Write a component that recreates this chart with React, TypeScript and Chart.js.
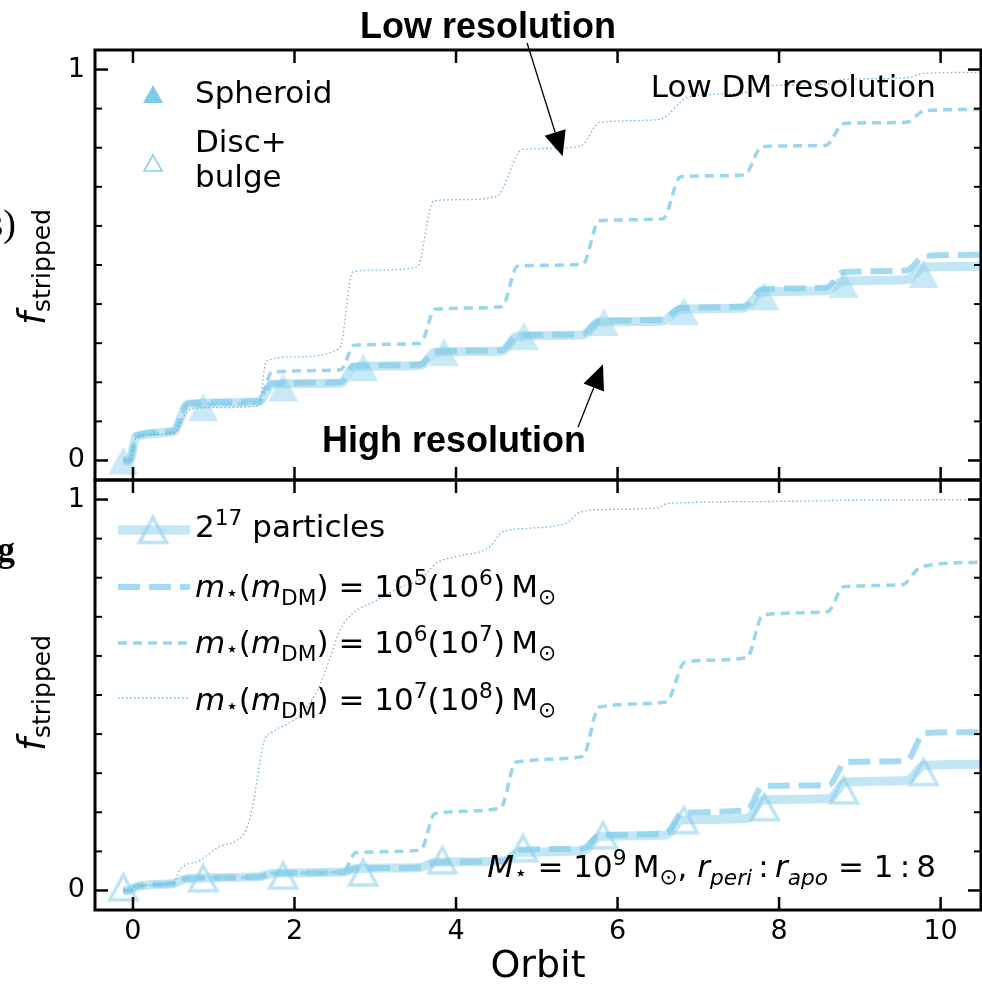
import React, { useEffect, useRef } from 'react';
import { Chart, registerables } from 'chart.js';

Chart.register(...registerables);

const W = 982;
const H = 986;

// ---------- axes ----------
const X_MIN = -0.47;
const X_MAX = 10.5;
const X_TICKS = [0, 2, 4, 6, 8, 10];
const X_TICK_LABELS = ['0', '2', '4', '6', '8', '10'];
const Y_MIN = -0.05;
const Y_MAX = 1.05;
const Y_TICKS = [0, 1];
const Y_TICK_LABELS = ['0', '1'];
const Y_MINOR_TICKS = [0.1, 0.2, 0.3, 0.4, 0.5, 0.6, 0.7, 0.8, 0.9];

// ---------- top panel (low DM resolution) ----------
const TOP_P17_X = [-0.12, -0.04, 0.04, 0.5, 0.68, 1.56, 1.72, 2.57, 2.74, 3.56, 3.74, 4.57, 4.76, 5.57, 5.77, 6.56, 6.78, 7.57, 7.79, 8.58, 8.8, 9.58, 9.8, 10.55];
const TOP_P17_Y = [0, 0, 0.062, 0.074, 0.144, 0.15, 0.195, 0.198, 0.24, 0.243, 0.277, 0.28, 0.318, 0.321, 0.354, 0.357, 0.387, 0.39, 0.431, 0.434, 0.459, 0.462, 0.495, 0.497];
const TOP_D5_X = [-0.12, -0.04, 0.04, 0.5, 0.68, 1.56, 1.72, 2.57, 2.74, 3.56, 3.74, 4.57, 4.76, 5.57, 5.77, 6.56, 6.78, 7.57, 7.79, 8.58, 8.8, 9.58, 9.8, 10.55];
const TOP_D5_Y = [0, 0, 0.064, 0.076, 0.146, 0.152, 0.197, 0.2, 0.242, 0.245, 0.279, 0.282, 0.32, 0.323, 0.356, 0.36, 0.39, 0.394, 0.438, 0.442, 0.482, 0.486, 0.523, 0.526];
const TOP_D6_X = [-0.12, -0.04, 0.04, 0.5, 0.68, 1.56, 1.72, 2.57, 2.74, 3.56, 3.74, 4.57, 4.76, 5.57, 5.77, 6.56, 6.78, 7.57, 7.79, 8.58, 8.8, 9.58, 9.8, 10.55];
const TOP_D6_Y = [0, 0, 0.06, 0.072, 0.142, 0.148, 0.226, 0.232, 0.295, 0.3, 0.387, 0.393, 0.497, 0.502, 0.613, 0.618, 0.726, 0.73, 0.803, 0.806, 0.862, 0.865, 0.895, 0.898];
const TOP_D7_X = [-0.12, -0.04, 0.04, 0.5, 0.7, 1.0, 1.56, 1.65, 2.0, 2.56, 2.72, 3.0, 3.52, 3.72, 4.0, 4.5, 4.82, 5.1, 5.55, 5.78, 6.52, 6.88, 7.55, 7.8, 8.55, 8.8, 9.55, 9.8, 10.55];
const TOP_D7_Y = [0, 0, 0.058, 0.07, 0.13, 0.135, 0.14, 0.254, 0.265, 0.287, 0.482, 0.487, 0.495, 0.663, 0.667, 0.675, 0.795, 0.798, 0.805, 0.865, 0.872, 0.93, 0.94, 0.958, 0.962, 0.975, 0.978, 0.99, 0.993];
const TOP_MARK_X = [-0.12, 0.87, 1.86, 2.85, 3.85, 4.84, 5.83, 6.82, 7.82, 8.8, 9.79];
const TOP_MARK_Y = [0.0, 0.136, 0.187, 0.238, 0.277, 0.318, 0.354, 0.382, 0.42, 0.451, 0.477];

// ---------- bottom panel ----------
const BOT_P17_X = [-0.12, -0.04, 0.04, 0.5, 0.66, 1.57, 1.72, 2.6, 2.76, 3.56, 3.74, 4.6, 4.77, 5.58, 5.78, 6.6, 6.8, 7.6, 7.8, 8.62, 8.82, 9.58, 9.8, 10.55];
const BOT_P17_Y = [0, 0, 0.01, 0.018, 0.03, 0.035, 0.044, 0.047, 0.056, 0.059, 0.072, 0.076, 0.097, 0.102, 0.138, 0.142, 0.18, 0.184, 0.231, 0.235, 0.277, 0.281, 0.32, 0.323];
const BOT_D5_X = [-0.12, -0.04, 0.04, 0.5, 0.66, 1.57, 1.72, 2.6, 2.76, 3.56, 3.74, 4.6, 4.77, 5.58, 5.78, 6.6, 6.8, 7.6, 7.8, 8.62, 8.82, 9.58, 9.8, 10.55];
const BOT_D5_Y = [0, 0, 0.01, 0.018, 0.03, 0.035, 0.044, 0.047, 0.056, 0.059, 0.072, 0.076, 0.104, 0.108, 0.141, 0.146, 0.198, 0.205, 0.267, 0.27, 0.328, 0.332, 0.403, 0.405];
const BOT_D6_X = [-0.12, -0.04, 0.04, 0.5, 0.66, 1.57, 1.72, 2.6, 2.76, 3.56, 3.74, 4.55, 4.74, 5.57, 5.77, 6.6, 6.84, 7.6, 7.8, 8.6, 8.8, 9.52, 9.76, 10.55];
const BOT_D6_Y = [0, 0, 0.01, 0.018, 0.03, 0.035, 0.044, 0.047, 0.097, 0.103, 0.197, 0.21, 0.328, 0.343, 0.469, 0.482, 0.585, 0.595, 0.705, 0.713, 0.777, 0.782, 0.828, 0.84];
const BOT_D7_X = [-0.12, -0.04, 0.04, 0.5, 0.58, 0.83, 1.05, 1.3, 1.4, 1.48, 1.55, 1.62, 1.72, 1.9, 2.1, 2.3, 2.45, 2.55, 2.7, 3.0, 3.3, 3.58, 3.76, 4.0, 4.42, 4.56, 4.7, 5.37, 5.53, 5.78, 6.5, 6.62, 7.9, 8.8, 10.55];
const BOT_D7_Y = [0, 0, 0.012, 0.02, 0.053, 0.077, 0.11, 0.13, 0.155, 0.213, 0.3, 0.38, 0.405, 0.425, 0.455, 0.52, 0.6, 0.66, 0.705, 0.74, 0.775, 0.8, 0.838, 0.854, 0.88, 0.915, 0.923, 0.94, 0.967, 0.974, 0.979, 0.99, 0.995, 0.998, 1.0];
const BOT_MARK_X = [-0.12, 0.87, 1.86, 2.85, 3.83, 4.83, 5.82, 6.82, 7.82, 8.8, 9.79];
const BOT_MARK_Y = [0.008, 0.031, 0.038, 0.046, 0.077, 0.108, 0.141, 0.18, 0.213, 0.256, 0.303];

// ---------- annotation arrows (data coordinates of top panel) ----------
const LOW_ARROW = { from: [4.88, 1.068], to: [5.32, 0.778] };
const HIGH_ARROW = { from: [5.51, 0.085], to: [5.82, 0.246] };

// ---------- styles ----------
const STYLE = {
  p17: { color: 'rgba(135,206,235,0.5)', width: 9, dash: [] as number[] },
  d5: { color: 'rgba(135,206,235,0.75)', width: 6, dash: [22, 9] },
  d6: { color: 'rgba(135,206,235,0.85)', width: 3.5, dash: [9, 6] },
  d7: { color: 'rgba(95,170,210,0.9)', width: 1.3, dash: [1.5, 2.5] },
};
const FONT = 'DejaVu Sans';

const pts = (xs: number[], ys: number[]) => xs.map((x, i) => ({ x, y: ys[i] }));

function triangleImage(w: number, h: number, fill: string | null, stroke: string | null, lw: number) {
  const pad = Math.ceil(lw) + 1;
  const c = document.createElement('canvas');
  c.width = w + 2 * pad;
  c.height = h + 2 * pad;
  const ctx = c.getContext('2d')!;
  ctx.beginPath();
  ctx.moveTo(pad + w / 2, pad);
  ctx.lineTo(pad + w, pad + h);
  ctx.lineTo(pad, pad + h);
  ctx.closePath();
  if (fill) { ctx.fillStyle = fill; ctx.fill(); }
  if (stroke) { ctx.strokeStyle = stroke; ctx.lineWidth = lw; ctx.lineJoin = 'miter'; ctx.stroke(); }
  return c;
}

function seg(ctx: CanvasRenderingContext2D, x1: number, y1: number, x2: number, y2: number) {
  ctx.beginPath();
  ctx.moveTo(x1, y1);
  ctx.lineTo(x2, y2);
  ctx.stroke();
}

const framePlugin = {
  id: 'frame',
  afterDraw(chart: any) {
    const { ctx, chartArea: a } = chart;
    const xs = chart.scales.x;
    const ys = chart.scales.y;
    ctx.save();
    ctx.strokeStyle = '#000';
    ctx.lineCap = 'butt';
    ctx.setLineDash([]);
    ctx.lineWidth = 2.5;
    X_TICKS.forEach((v) => {
      const p = xs.getPixelForValue(v);
      seg(ctx, p, a.bottom, p, a.bottom - 13);
      seg(ctx, p, a.top, p, a.top + 13);
    });
    Y_TICKS.forEach((v) => {
      const p = ys.getPixelForValue(v);
      seg(ctx, a.left, p, a.left + 13, p);
      seg(ctx, a.right, p, a.right - 13, p);
    });
    ctx.lineWidth = 2;
    Y_MINOR_TICKS.forEach((v) => {
      const p = ys.getPixelForValue(v);
      seg(ctx, a.left, p, a.left + 7, p);
      seg(ctx, a.right, p, a.right - 7, p);
    });
    ctx.lineWidth = 3;
    ctx.strokeRect(a.left, a.top, a.right - a.left, a.bottom - a.top);
    ctx.restore();
  },
};

function drawArrow(ctx: CanvasRenderingContext2D, xs: any, ys: any, arrow: { from: number[]; to: number[] }) {
  const x1 = xs.getPixelForValue(arrow.from[0]);
  const y1 = ys.getPixelForValue(arrow.from[1]);
  const x2 = xs.getPixelForValue(arrow.to[0]);
  const y2 = ys.getPixelForValue(arrow.to[1]);
  const ang = Math.atan2(y2 - y1, x2 - x1);
  const len = 25;
  const hw = 11;
  const bx = x2 - len * Math.cos(ang);
  const by = y2 - len * Math.sin(ang);
  ctx.save();
  ctx.strokeStyle = '#000';
  ctx.fillStyle = '#000';
  ctx.lineWidth = 1.3;
  seg(ctx, x1, y1, bx, by);
  ctx.beginPath();
  ctx.moveTo(x2, y2);
  ctx.lineTo(bx + hw * Math.sin(ang), by - hw * Math.cos(ang));
  ctx.lineTo(bx - hw * Math.sin(ang), by + hw * Math.cos(ang));
  ctx.closePath();
  ctx.fill();
  ctx.restore();
}

function lineSample(ctx: CanvasRenderingContext2D, st: { color: string; width: number; dash: number[] }, x1: number, x2: number, y: number) {
  ctx.save();
  ctx.strokeStyle = st.color;
  ctx.lineWidth = st.width;
  ctx.setLineDash(st.dash);
  ctx.lineCap = 'butt';
  seg(ctx, x1, y, x2, y);
  ctx.restore();
}

function makeDatasets(
  d7: [number[], number[]], d6: [number[], number[]], d5: [number[], number[]], p17: [number[], number[]],
  mark: [number[], number[]], markerImg: HTMLCanvasElement,
) {
  const line = (xy: [number[], number[]], st: any) => ({
    type: 'line',
    data: pts(xy[0], xy[1]),
    borderColor: st.color,
    borderWidth: st.width,
    borderDash: st.dash,
    borderCapStyle: 'butt',
    pointRadius: 0,
    fill: false,
    cubicInterpolationMode: 'monotone',
  });
  return [
    line(d7, STYLE.d7),
    line(d6, STYLE.d6),
    line(d5, STYLE.d5),
    {
      type: 'line',
      data: pts(mark[0], mark[1]),
      showLine: false,
      pointStyle: markerImg,
      pointRadius: 10,
      clip: false,
    },
    line(p17, STYLE.p17),
  ];
}

function baseOptions(showX: boolean, padTop: number, padBottom: number, xHeight: number) {
  const tickFont = { family: FONT, size: 27 };
  return {
    animation: false,
    responsive: false,
    events: [],
    layout: { autoPadding: false, padding: { top: padTop, bottom: padBottom, left: 0, right: 1 } },
    plugins: { legend: { display: false }, tooltip: { enabled: false } },
    scales: {
      x: {
        type: 'linear',
        min: X_MIN,
        max: X_MAX,
        afterBuildTicks: (s: any) => { s.ticks = X_TICKS.map((v) => ({ value: v })); },
        ticks: {
          display: showX,
          font: tickFont,
          color: '#000',
          padding: 6,
          maxRotation: 0,
          autoSkip: false,
          callback: (v: number) => X_TICK_LABELS[X_TICKS.indexOf(v)] ?? '',
        },
        grid: { display: false, drawTicks: false },
        border: { display: false },
        title: showX
          ? { display: true, text: 'Orbit', color: '#000', font: { family: FONT, size: 38, lineHeight: 1 }, padding: { top: 0, bottom: 0 } }
          : { display: false },
        afterFit: (s: any) => { s.height = xHeight; },
      },
      y: {
        type: 'linear',
        min: Y_MIN,
        max: Y_MAX,
        afterBuildTicks: (s: any) => { s.ticks = Y_TICKS.map((v) => ({ value: v })); },
        ticks: {
          font: tickFont,
          color: '#000',
          padding: 10,
          callback: (v: number) => Y_TICK_LABELS[Y_TICKS.indexOf(v)] ?? '',
        },
        grid: { display: false, drawTicks: false },
        border: { display: false },
        afterFit: (s: any) => { s.width = 95; },
      },
    },
  };
}

const Sup = ({ s, children }: { s: number; children: any }) => (
  <span style={{ fontSize: s * 0.7, position: 'relative', top: -s * 0.38, lineHeight: 0 }}>{children}</span>
);
const Sub = ({ s, d = 0.2, children }: { s: number; d?: number; children: any }) => (
  <span style={{ fontSize: s * 0.7, position: 'relative', top: s * d, lineHeight: 0 }}>{children}</span>
);

function Txt({ x, base, size, align = 'left', family = FONT, weight = 'normal', children }: any) {
  const top = base - 0.846 * size;
  const pos: any = align === 'left' ? { left: x } : align === 'right' ? { right: W - x } : { left: x, transform: 'translateX(-50%)' };
  return (
    <div style={{ position: 'absolute', top, ...pos, fontSize: size, lineHeight: `${size}px`, fontFamily: family, fontWeight: weight, whiteSpace: 'nowrap', color: '#000' }}>
      {children}
    </div>
  );
}

function YTitle({ cx, cy }: { cx: number; cy: number }) {
  const s = 37;
  return (
    <div style={{ position: 'absolute', left: cx, top: cy, transform: 'translate(-50%, -50%) rotate(-90deg)', fontFamily: FONT, fontSize: s, lineHeight: `${s}px`, whiteSpace: 'nowrap', color: '#000' }}>
      <i>f</i>
      <span style={{ fontSize: 25, position: 'relative', top: 5, lineHeight: 0 }}>stripped</span>
    </div>
  );
}

const MS = 31;
const MathRow = ({ a, b }: { a: string; b: string }) => (
  <>
    <i>m</i><Sub s={MS} d={0.12}>⋆</Sub>(<i>m</i><Sub s={MS} d={0.25}>DM</Sub>) = 10<Sup s={MS}>{a}</Sup>(10<Sup s={MS}>{b}</Sup>)&thinsp;M<Sub s={MS} d={0.22}>⊙</Sub>
  </>
);

export default function App() {
  const topRef = useRef<HTMLCanvasElement>(null);
  const botRef = useRef<HTMLCanvasElement>(null);

  useEffect(() => {
    const filledTri = triangleImage(30, 28, 'rgba(135,206,235,0.45)', null, 0);
    const openTri = triangleImage(27, 25, null, 'rgba(135,206,235,0.55)', 3.5);
    const legFilled = triangleImage(20, 18, 'rgba(120,200,232,0.95)', null, 0);
    const legOpen = triangleImage(18, 16, null, 'rgba(135,206,235,0.95)', 1.6);
    const legOpenBig = triangleImage(27, 25, null, 'rgba(135,206,235,0.6)', 3.5);

    const topDecor = {
      id: 'topDecor',
      afterDraw(chart: any) {
        const { ctx } = chart;
        ctx.drawImage(legFilled, 153 - legFilled.width / 2, 94 - legFilled.height / 2);
        ctx.drawImage(legOpen, 153 - legOpen.width / 2, 163 - legOpen.height / 2);
        drawArrow(ctx, chart.scales.x, chart.scales.y, LOW_ARROW);
        drawArrow(ctx, chart.scales.x, chart.scales.y, HIGH_ARROW);
      },
    };
    const botDecor = {
      id: 'botDecor',
      afterDraw(chart: any) {
        const { ctx } = chart;
        lineSample(ctx, STYLE.p17, 118, 190, 530);
        ctx.drawImage(legOpenBig, 153 - legOpenBig.width / 2, 530 - legOpenBig.height / 2);
        lineSample(ctx, STYLE.d5, 118, 190, 587);
        lineSample(ctx, STYLE.d6, 118, 190, 643);
        lineSample(ctx, STYLE.d7, 118, 190, 698);
      },
    };

    const top = new Chart(topRef.current!, {
      type: 'line',
      data: {
        datasets: makeDatasets([TOP_D7_X, TOP_D7_Y], [TOP_D6_X, TOP_D6_Y], [TOP_D5_X, TOP_D5_Y], [TOP_P17_X, TOP_P17_Y], [TOP_MARK_X, TOP_MARK_Y], filledTri) as any,
      },
      options: baseOptions(false, 50, H - 480, 0) as any,
      plugins: [framePlugin, topDecor],
    });
    const bot = new Chart(botRef.current!, {
      type: 'line',
      data: {
        datasets: makeDatasets([BOT_D7_X, BOT_D7_Y], [BOT_D6_X, BOT_D6_Y], [BOT_D5_X, BOT_D5_Y], [BOT_P17_X, BOT_P17_Y], [BOT_MARK_X, BOT_MARK_Y], openTri) as any,
      },
      options: baseOptions(true, 480, 0, 76) as any,
      plugins: [framePlugin, botDecor],
    });
    return () => { top.destroy(); bot.destroy(); };
  }, []);

  return (
    <div style={{ position: 'absolute', left: 0, top: 0, width: W, height: H, overflow: 'hidden', background: '#fff' }}>
      <canvas ref={topRef} width={W} height={H} style={{ position: 'absolute', left: 0, top: 0 }} />
      <canvas ref={botRef} width={W} height={H} style={{ position: 'absolute', left: 0, top: 0 }} />

      {/* cut-off fragments from neighbouring panel */}
      <Txt x={16} base={236} size={38} align="right" family="Liberation Serif">s)</Txt>
      <Txt x={15} base={561} size={36} align="right" family="Liberation Serif" weight="bold">g</Txt>

      <YTitle cx={32} cy={267} />
      <YTitle cx={32} cy={693} />

      <Txt x={488} base={38} size={36} align="center" family="Liberation Sans" weight="bold">Low resolution</Txt>
      <Txt x={454} base={452} size={36} align="center" family="Liberation Sans" weight="bold">High resolution</Txt>
      <Txt x={936} base={97} size={31} align="right">Low DM resolution</Txt>

      <Txt x={195} base={103} size={31}>Spheroid</Txt>
      <Txt x={195} base={152} size={31}>Disc+</Txt>
      <Txt x={195} base={187} size={31}>bulge</Txt>

      <Txt x={195} base={537} size={MS}>2<Sup s={MS}>17</Sup> particles</Txt>
      <Txt x={195} base={597} size={MS}><MathRow a="5" b="6" /></Txt>
      <Txt x={195} base={653} size={MS}><MathRow a="6" b="7" /></Txt>
      <Txt x={195} base={710} size={MS}><MathRow a="7" b="8" /></Txt>

      <Txt x={936} base={877} size={MS} align="right">
        <i>M</i><Sub s={MS} d={0.12}>⋆</Sub> = 10<Sup s={MS}>9</Sup>&thinsp;M<Sub s={MS} d={0.22}>⊙</Sub>, <i>r</i><Sub s={MS} d={0.25}><i>peri</i></Sub>&thinsp;:&thinsp;<i>r</i><Sub s={MS} d={0.25}><i>apo</i></Sub> = 1&thinsp;:&thinsp;8
      </Txt>
    </div>
  );
}
